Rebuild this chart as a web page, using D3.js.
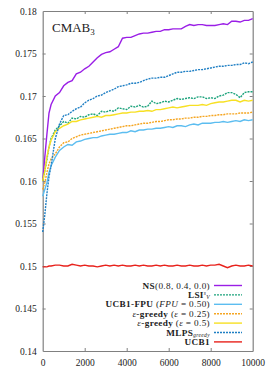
<!DOCTYPE html>
<html>
<head>
<meta charset="utf-8">
<script src="https://cdn.jsdelivr.net/npm/d3@7"></script>
<style>
  body { margin: 0; background: #fff; }
  text { font-family: "Liberation Serif", "DejaVu Serif", serif; fill: #222; }
</style>
</head>
<body>
<svg id="chart" width="270" height="371"></svg>
<script>
const width = 270;
const height = 371;
const margin = { left: 42.7, top: 11, right: 17.3, bottom: 20 };

// iterations
const iters = [0,100,200,300,400,600,800,1000,1200,1400,1600,1800,2000,2200,2400,2600,2800,3000,3200,3400,3600,3800,4000,4200,4400,4600,4800,5000,5200,5400,5600,5800,6000,6200,6400,6600,6800,7000,7200,7400,7600,7800,8000,8200,8400,8600,8800,9000,9200,9400,9600,9800,10000];

const ns = [0.1600,0.1628,0.1655,0.1680,0.1690,0.1700,0.1704,0.1712,0.1716,0.1718,0.1726,0.1728,0.1732,0.1735,0.1740,0.1745,0.1749,0.1751,0.1752,0.1755,0.1758,0.1768,0.1769,0.1769,0.1771,0.1773,0.1774,0.1774,0.1775,0.1776,0.1776,0.1778,0.1778,0.1779,0.1779,0.1779,0.1782,0.1784,0.1783,0.1784,0.1784,0.1783,0.1783,0.1783,0.1784,0.1785,0.1784,0.1788,0.1788,0.1787,0.1789,0.1789,0.1791];
const lsi = [0.1600,0.1612,0.1625,0.1640,0.1650,0.1660,0.1665,0.1670,0.1668,0.1674,0.1673,0.1676,0.1675,0.1678,0.1679,0.1677,0.1682,0.1681,0.1683,0.1682,0.1686,0.1685,0.1684,0.1688,0.1687,0.1689,0.1687,0.1688,0.1694,0.1691,0.1692,0.1694,0.1693,0.1695,0.1697,0.1696,0.1697,0.1698,0.1697,0.1699,0.1699,0.1697,0.1698,0.1697,0.1700,0.1701,0.1704,0.1704,0.1702,0.1698,0.1704,0.1705,0.1705];
const fpu = [0.1582,0.1590,0.1598,0.1610,0.1618,0.1628,0.1636,0.1640,0.1643,0.1642,0.1646,0.1647,0.1649,0.1650,0.1651,0.1651,0.1653,0.1654,0.1655,0.1655,0.1656,0.1657,0.1657,0.1659,0.1658,0.1660,0.1660,0.1661,0.1661,0.1662,0.1662,0.1663,0.1664,0.1663,0.1665,0.1665,0.1664,0.1666,0.1667,0.1666,0.1668,0.1668,0.1668,0.1669,0.1669,0.1670,0.1669,0.1670,0.1671,0.1670,0.1672,0.1671,0.1672];
const eps25 = [0.1590,0.1598,0.1610,0.1620,0.1626,0.1632,0.1640,0.1645,0.1646,0.1650,0.1652,0.1654,0.1655,0.1656,0.1657,0.1658,0.1659,0.1660,0.1661,0.1662,0.1663,0.1664,0.1665,0.1665,0.1666,0.1667,0.1668,0.1668,0.1669,0.1670,0.1670,0.1671,0.1672,0.1672,0.1673,0.1673,0.1674,0.1674,0.1675,0.1675,0.1676,0.1676,0.1677,0.1677,0.1678,0.1678,0.1679,0.1679,0.1679,0.1680,0.1680,0.1680,0.1681];
const eps50 = [0.1600,0.1612,0.1628,0.1640,0.1648,0.1658,0.1662,0.1665,0.1667,0.1670,0.1670,0.1672,0.1673,0.1674,0.1675,0.1676,0.1675,0.1677,0.1677,0.1678,0.1679,0.1680,0.1680,0.1681,0.1681,0.1682,0.1682,0.1683,0.1682,0.1684,0.1684,0.1685,0.1686,0.1687,0.1686,0.1687,0.1688,0.1689,0.1689,0.1689,0.1690,0.1689,0.1691,0.1692,0.1693,0.1693,0.1694,0.1695,0.1695,0.1693,0.1695,0.1694,0.1695];
const mlps = [0.1540,0.1560,0.1585,0.1605,0.1618,0.1650,0.1667,0.1677,0.1678,0.1682,0.1685,0.1687,0.1692,0.1695,0.1697,0.1700,0.1701,0.1704,0.1706,0.1708,0.1711,0.1712,0.1713,0.1715,0.1715,0.1716,0.1718,0.1720,0.1721,0.1721,0.1722,0.1722,0.1724,0.1726,0.1728,0.1728,0.1729,0.1729,0.1730,0.1731,0.1731,0.1732,0.1733,0.1734,0.1735,0.1735,0.1736,0.1736,0.1737,0.1737,0.1739,0.1738,0.1740];
const ucb1 = [0.1499,0.1499,0.1499,0.1500,0.1500,0.1501,0.1501,0.1500,0.1500,0.1502,0.1501,0.1500,0.1501,0.1500,0.1500,0.1499,0.1500,0.1501,0.1500,0.1501,0.1500,0.1501,0.1500,0.1500,0.1501,0.1500,0.1501,0.1500,0.1500,0.1501,0.1500,0.1501,0.1500,0.1500,0.1501,0.1500,0.1500,0.1501,0.1500,0.1500,0.1501,0.1500,0.1501,0.1501,0.1502,0.1500,0.1498,0.1500,0.1501,0.1500,0.1500,0.1501,0.1500];

const xTicks = [0,2000,4000,6000,8000,10000];
const yTicks = [0.14,0.145,0.15,0.155,0.16,0.165,0.17,0.175,0.18];

// series: legend order
const series = [
  { key: 'ns',    values: ns,    color: '#9a1ee6', dash: null },
  { key: 'lsi',   values: lsi,   color: '#1ca37c', dash: '2,1' },
  { key: 'fpu',   values: fpu,   color: '#5cbdf0', dash: null },
  { key: 'eps25', values: eps25, color: '#f5a623', dash: '2,1' },
  { key: 'eps50', values: eps50, color: '#f7e024', dash: null },
  { key: 'mlps',  values: mlps,  color: '#1f7fc4', dash: '2,1' },
  { key: 'ucb1',  values: ucb1,  color: '#e8221c', dash: null },
];

const x = d3.scaleLinear().domain([0, 10000]).range([margin.left, width - margin.right]);
const y = d3.scaleLinear().domain([0.14, 0.18]).range([height - margin.bottom, margin.top]);

const svg = d3.select('#chart');
const axisColor = '#808080';

// axes (ticks inward, mirrored)
const gl = svg.append('g').attr('transform', `translate(${x.range()[0]},0)`)
  .call(d3.axisLeft(y).tickValues(yTicks).tickSizeInner(-3).tickSizeOuter(0).tickPadding(6)
    .tickFormat(d => String(+d.toFixed(3))));
const gr = svg.append('g').attr('transform', `translate(${x.range()[1]},0)`)
  .call(d3.axisRight(y).tickValues(yTicks).tickSizeInner(-3).tickSizeOuter(0).tickFormat(''));
const gb = svg.append('g').attr('transform', `translate(0,${y.range()[0]})`)
  .call(d3.axisBottom(x).tickValues(xTicks).tickSizeInner(-3).tickSizeOuter(0).tickPadding(6)
    .tickFormat(d3.format('d')));
const gt = svg.append('g').attr('transform', `translate(0,${y.range()[1]})`)
  .call(d3.axisTop(x).tickValues(xTicks).tickSizeInner(-3).tickSizeOuter(0).tickFormat(''));

[gl, gr, gb, gt].forEach(g => {
  g.select('.domain').attr('stroke', axisColor).attr('stroke-width', 1.2);
  g.selectAll('.tick line').attr('stroke', axisColor).attr('stroke-width', 1);
  g.selectAll('.tick text').attr('font-size', 9.5).attr('fill', '#222')
    .attr('font-family', '"Liberation Serif", serif');
});
gl.selectAll('.tick line').filter(d => d === 0.14 || d === 0.18).remove();
gr.selectAll('.tick line').filter(d => d === 0.14 || d === 0.18).remove();
gb.selectAll('.tick line').filter(d => d === 0 || d === 10000).remove();
gt.selectAll('.tick line').filter(d => d === 0 || d === 10000).remove();
gb.selectAll('.tick text').attr('dy', '0.9em');

// lines
const line = d3.line().x((d, i) => x(iters[i])).y(d => y(d));
svg.append('g').selectAll('path')
  .data(series)
  .enter().append('path')
  .attr('d', d => line(d.values))
  .attr('fill', 'none')
  .attr('stroke', d => d.color)
  .attr('stroke-width', 1.4)
  .attr('stroke-dasharray', d => d.dash);

// title
const title = svg.append('text').attr('x', 52).attr('y', 32).attr('font-size', 13);
title.append('tspan').text('CMAB');
title.append('tspan').attr('font-size', 9).attr('dy', 3).text('3');

// legend
const legendRows = [
  [['NS', 'b'], ['(0.8, 0.4, 0.0)', 'n']],
  [['LSI', 'b'], ['s', 'sup'], ['V', 'sub']],
  [['UCB1-FPU', 'b'], [' (', 'n'], ['FPU', 'i'], [' = 0.50)', 'n']],
  [['ε', 'i'], ['-greedy', 'b'], [' (', 'n'], ['ε', 'i'], [' = 0.25)', 'n']],
  [['ε', 'i'], ['-greedy', 'b'], [' (', 'n'], ['ε', 'i'], [' = 0.5)', 'n']],
  [['MLPS', 'b'], ['greedy', 'sub']],
  [['UCB1', 'b']],
];

const legendTop = 285.5;
const rowH = 9.4;
const lg = svg.append('g');
series.forEach((s, i) => {
  const yy = legendTop + i * rowH;
  lg.append('line')
    .attr('x1', 214).attr('x2', 242).attr('y1', yy).attr('y2', yy)
    .attr('stroke', s.color).attr('stroke-width', 1.4)
    .attr('stroke-dasharray', s.dash);
  const t = lg.append('text').attr('x', 210).attr('y', yy + 3)
    .attr('text-anchor', 'end').attr('font-size', 9.2).attr('letter-spacing', 0.35);
  let shift = 0;
  legendRows[i].forEach(([str, kind]) => {
    const ts = t.append('tspan').text(str);
    let target = 0;
    if (kind === 'b') ts.attr('font-weight', 'bold');
    if (kind === 'i') ts.attr('font-style', 'italic');
    if (kind === 'sup') { ts.attr('font-style', 'italic').attr('font-size', 5.5); target = -3; }
    if (kind === 'sub') { ts.attr('font-style', 'italic').attr('font-size', 5.5); target = 1.5; }
    ts.attr('dy', target - shift);
    shift = target;
  });
});
</script>
</body>
</html>
